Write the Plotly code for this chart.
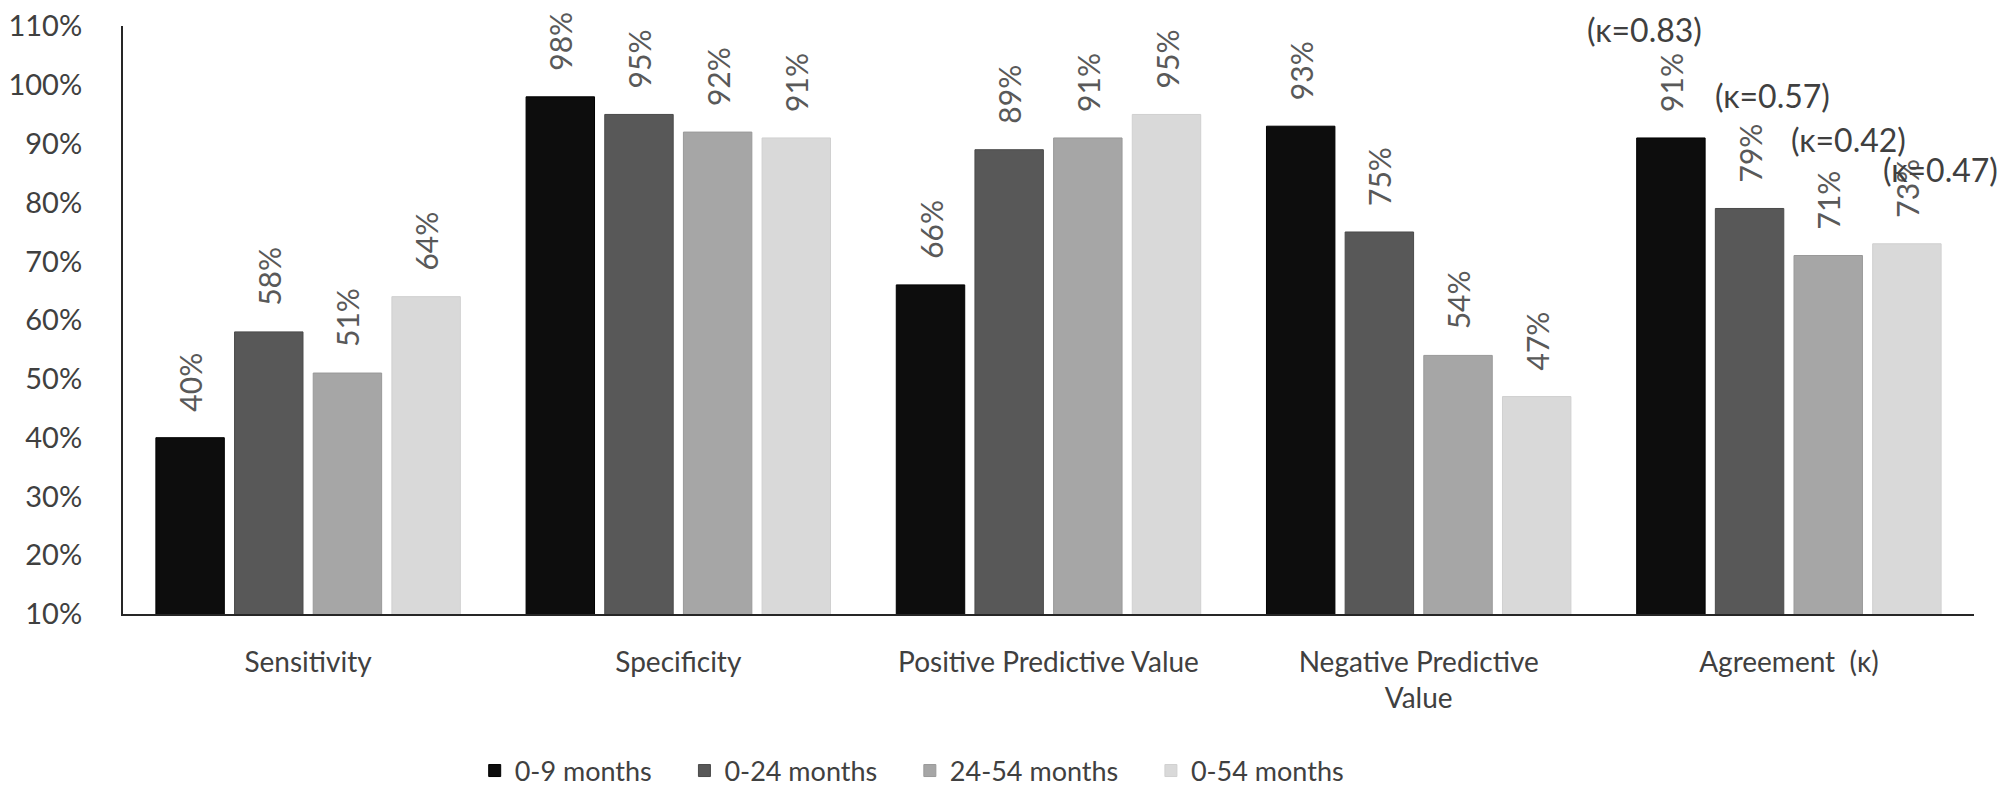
import plotly.graph_objects as go

categories = ["Sensitivity", "Specificity", "Positive Predictive Value",
              "Negative Predictive<br>Value", "Agreement  (κ)"]
series_names = ["0-9 months", "0-24 months", "24-54 months", "0-54 months"]
vals_0_9 = [40, 98, 66, 93, 91]
vals_0_24 = [58, 95, 89, 75, 79]
vals_24_54 = [51, 92, 91, 54, 71]
vals_0_54 = [64, 91, 95, 47, 73]
series_values = [vals_0_9, vals_0_24, vals_24_54, vals_0_54]
kappa_values = ["0.83", "0.57", "0.42", "0.47"]
y_ticks = [10, 20, 30, 40, 50, 60, 70, 80, 90, 100, 110]

colors = ["#0d0d0d", "#585858", "#a6a6a6", "#d9d9d9"]
line_colors = ["#000000", "#4a4a4a", "#999999", "#d0d0d0"]

FONT = "Lato"
PAD = "\u00a0" * 4
fig = go.Figure()
for name, vals, c, lc in zip(series_names, series_values, colors, line_colors):
    fig.add_trace(go.Bar(
        name=name + PAD, x=categories, y=vals,
        marker=dict(color=c, line=dict(color=lc, width=1)),
        text=["\u00a0\u00a0\u00a0" + f"{v}%" for v in vals],
        textposition="outside", textangle=-90,
        textfont=dict(family=FONT, size=30, color="#595959"),
        cliponaxis=False, constraintext="none",
    ))

# kappa annotations above Agreement bars (hand-placed in original)
k_dx = [-0.389, -0.043, 0.162, 0.41]
k_y = [109.4, 98.2, 90.7, 85.6]
for kv, dx, yy in zip(kappa_values, k_dx, k_y):
    fig.add_annotation(x=len(categories) - 1 + dx, y=yy, xref="x", yref="y",
                       text=f"(κ={kv})", showarrow=False,
                       font=dict(family=FONT, size=32, color="#404040"))

fig.update_layout(
    width=2008, height=800,
    margin=dict(l=115, r=42, t=18, b=187),
    paper_bgcolor="white", plot_bgcolor="white",
    barmode="group", bargap=0.15, bargroupgap=0.13,
    font=dict(family=FONT, size=30, color="#404040"),
    showlegend=True,
    legend=dict(orientation="h", x=0.19, xanchor="left", y=-0.267, yanchor="middle",
                font=dict(family=FONT, size=27, color="#404040"),
                traceorder="normal"),
)
fig.update_xaxes(range=[-0.5, len(categories) - 0.5],
                 showline=True, linecolor="#262626", linewidth=2, ticks="",
                 showgrid=False, automargin=False,
                 tickfont=dict(family=FONT, size=28, color="#404040"),
                 ticklabelstandoff=22)
fig.update_yaxes(range=[10, 110.05], tickvals=y_ticks,
                 ticktext=[f"{t}%" for t in y_ticks], showline=True,
                 linecolor="#262626", linewidth=2, ticks="", showgrid=False,
                 zeroline=False, automargin=False, ticklabeloverflow="allow",
                 tickfont=dict(family=FONT, size=29, color="#404040"),
                 ticklabelstandoff=33)

fig.write_html("out.html")
